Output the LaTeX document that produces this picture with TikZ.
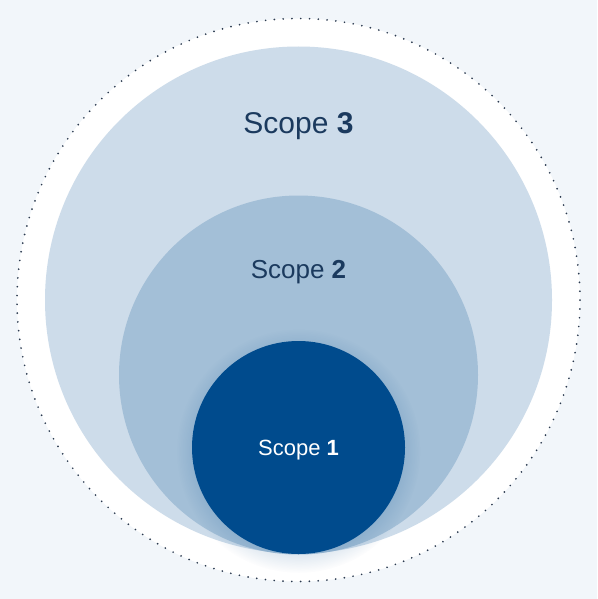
\documentclass[tikz,border=0pt]{standalone}
\usepackage{fontspec}
\setmainfont{Liberation Sans}
\usetikzlibrary{positioning,fadings}

\definecolor{pagebg}{HTML}{F2F6FA}
\definecolor{ringdot}{HTML}{2B3A4F}
\definecolor{scopeA}{HTML}{CDDCEA}
\definecolor{scopeB}{HTML}{A3BFD7}
\definecolor{scopeC}{HTML}{004B8D}
\definecolor{scopetext}{HTML}{1B3A5E}

% soft glow round the inner scope
\pgfdeclareradialshading{glowshade}{\pgfpointorigin}{%
  color(0bp)=(pgftransparent!0); color(20bp)=(pgftransparent!0);
  color(25bp)=(pgftransparent!100); color(50bp)=(pgftransparent!100)}
\pgfdeclarefading{glow}{\pgfuseshading{glowshade}}

\begin{document}
\begin{tikzpicture}[
  x=1pt, y=-1pt,
  disc/.style={circle, draw=none, inner sep=0pt},
  outer/.style={disc, fill=white, minimum size=563pt},
  ring/.style={circle, draw=ringdot, line width=1.9pt, line cap=round,
    dash pattern=on 0pt off 8.8pt, minimum size=563pt, inner sep=0pt},
  third/.style={disc, fill=scopeA, minimum size=507pt},
  second/.style={disc, fill=scopeB, minimum size=359pt},
  first/.style={disc, fill=scopeC, minimum size=213pt},
  label/.style={text=scopetext, inner sep=0pt}
]
\fill[pagebg] (0,0) rectangle (597,599);
\useasboundingbox (0,0) rectangle (597,599);

% Outer white area
\node[outer] (area) at (298.5,300) {};
\node[ring] (border) at (area.center) {};

% Nested scopes
\node[third] (s3) at (298.5,300) {};
\node[second] (s2) at (298.5,375) {};
\fill[scopeC, opacity=0.16, path fading=glow] (298.5,451) circle (122pt);
\node[first] (s1) at (298.5,447.5) {};

% Labels
\node[label, font=\fontsize{30}{36}\selectfont] (t3) at (298.5,126) {Scope \textbf{3}};
\node[label, font=\fontsize{26}{31}\selectfont] (t2) at (298.5,272) {Scope \textbf{2}};
\node[label, text=white, font=\fontsize{22}{26}\selectfont] (t1) at (298.5,450) {Scope \textbf{1}};

\end{tikzpicture}
\end{document}
